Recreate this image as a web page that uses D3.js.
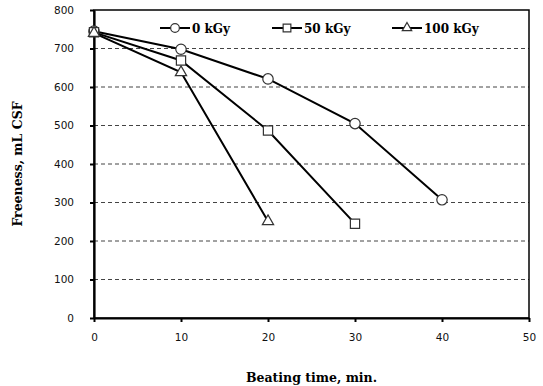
<!DOCTYPE html>
<html>
<head>
<meta charset="utf-8">
<script src="https://cdn.jsdelivr.net/npm/d3@7"></script>
<style>
  body { margin: 0; background: #fff; }
  svg { display: block; }
</style>
</head>
<body>
<div id="chart"></div>
<script>
// beating time (min) and freeness (mL CSF) per irradiation dose
var times = [0, 10, 20, 30, 40];
var dose0 = [745, 698, 621, 505, 307];
var dose50 = [742, 669, 487, 245];
var dose100 = [740, 638, 251];
var seriesNames = ["0 kGy", "50 kGy", "100 kGy"];
var xTicks = [0, 10, 20, 30, 40, 50];
var yTicks = [0, 100, 200, 300, 400, 500, 600, 700, 800];

var width = 543, height = 386;
var margin = { top: 10, right: 14, bottom: 68, left: 94 };

var svg = d3.select("#chart").append("svg")
    .attr("width", width)
    .attr("height", height);

var x = d3.scaleLinear().domain([0, 50]).range([margin.left, width - margin.right]);
var y = d3.scaleLinear().domain([0, 800]).range([height - margin.bottom, margin.top]);

// dashed gridlines
svg.append("g")
    .selectAll("line")
    .data(yTicks.filter(function (d) { return d > 0 && d < 800; }))
    .enter().append("line")
    .attr("x1", x(0)).attr("x2", x(50))
    .attr("y1", function (d) { return y(d); })
    .attr("y2", function (d) { return y(d); })
    .attr("stroke", "#444")
    .attr("stroke-width", 1)
    .attr("stroke-dasharray", "4,3");

// frame top / right
svg.append("rect")
    .attr("x", x(0)).attr("y", y(800))
    .attr("width", x(50) - x(0)).attr("height", y(0) - y(800))
    .attr("fill", "none").attr("stroke", "#000").attr("stroke-width", 1.5);

var tickFont = "'DejaVu Sans', sans-serif";

var xAxis = svg.append("g")
    .attr("transform", "translate(0," + y(0) + ")")
    .call(d3.axisBottom(x).tickValues(xTicks).tickSize(4).tickPadding(12).tickSizeOuter(0));
var yAxis = svg.append("g")
    .attr("transform", "translate(" + x(0) + ",0)")
    .call(d3.axisLeft(y).tickValues(yTicks).tickSize(4).tickPadding(16).tickSizeOuter(0));

[xAxis, yAxis].forEach(function (a) {
    a.select(".domain").attr("stroke", "#000").attr("stroke-width", 2.2);
    a.selectAll(".tick line").attr("stroke", "#000").attr("stroke-width", 2);
    a.selectAll(".tick text")
        .attr("fill", "#111")
        .style("font-family", tickFont)
        .style("font-size", "10.5px");
});

// axis titles
var titleFont = "'DejaVu Serif', 'Liberation Serif', serif";
svg.append("text")
    .attr("x", (x(0) + x(50)) / 2)
    .attr("y", 382)
    .attr("text-anchor", "middle")
    .style("font-family", titleFont)
    .style("font-weight", "bold")
    .style("font-size", "12.5px")
    .text("Beating time, min.");

svg.append("text")
    .attr("transform", "translate(22," + (y(400)) + ") rotate(-90)")
    .attr("text-anchor", "middle")
    .style("font-family", titleFont)
    .style("font-weight", "bold")
    .style("font-size", "12.5px")
    .text("Freeness, mL CSF");

var series = [
    { name: seriesNames[0], values: dose0, shape: d3.symbolCircle },
    { name: seriesNames[1], values: dose50, shape: d3.symbolSquare },
    { name: seriesNames[2], values: dose100, shape: d3.symbolTriangle }
];

var line = d3.line()
    .x(function (d, i) { return x(times[i]); })
    .y(function (d) { return y(d); });

series.forEach(function (s) {
    svg.append("path")
        .datum(s.values)
        .attr("d", line)
        .attr("fill", "none")
        .attr("stroke", "#000")
        .attr("stroke-width", 2);
});

function marker(sel, shape, k) {
    var base = shape === d3.symbolTriangle ? 55 : 85;
    sel.attr("d", d3.symbol().type(shape).size(base * (k || 1)))
        .attr("fill", "#fff")
        .attr("stroke", "#333")
        .attr("stroke-width", 1.2);
}

series.forEach(function (s) {
    svg.append("g").selectAll("path")
        .data(s.values)
        .enter().append("path")
        .attr("transform", function (d, i) { return "translate(" + x(times[i]) + "," + y(d) + ")"; })
        .call(marker, s.shape);
});

// legend
var legendX = [160, 272, 392];
var legend = svg.append("g");
series.forEach(function (s, i) {
    var g = legend.append("g").attr("transform", "translate(" + legendX[i] + ",28)");
    g.append("line").attr("x1", 0).attr("x2", 30).attr("y1", 0).attr("y2", 0)
        .attr("stroke", "#000").attr("stroke-width", 2);
    g.append("path").attr("transform", "translate(15,0)").call(marker, s.shape, 0.7);
    g.append("text")
        .attr("x", 32).attr("y", 4.5)
        .style("font-family", titleFont)
        .style("font-weight", "bold")
        .style("font-size", "12px")
        .text(s.name);
});
</script>
</body>
</html>
